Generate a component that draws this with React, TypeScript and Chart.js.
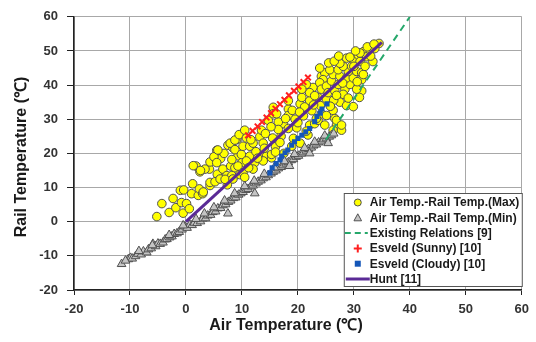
import { useEffect, useRef } from "react";
import { Chart, registerables } from "chart.js";

Chart.register(...registerables);

const xTickValues = [-20, -10, 0, 10, 20, 30, 40, 50, 60];
const yTickValues = [-20, -10, 0, 10, 20, 30, 40, 50, 60];

const seriesLabels = [
  "Air Temp.-Rail Temp.(Max)",
  "Air Temp.-Rail Temp.(Min)",
  "Existing Relations [9]",
  "Esveld (Sunny) [10]",
  "Esveld (Cloudy) [10]",
  "Hunt [11]",
];

const maxPoints: [number, number][] = [
  [-5.2, 1.5], [-4.3, 5.3], [-3.0, 2.7], [-2.3, 6.8], [-1.8, 4.1], [-1.0, 9.2], [-0.4, 9.3], [-0.8, 5.6], [-0.5, 2.5],
  [0.1, 5.3], [1.0, 8.2], [1.2, 11.1], [2.2, 7.7], [2.4, 9.6], [3.0, 8.2], [1.8, 16.3], [2.5, 14.6], [4.2, 15.4],
  [4.3, 10.6], [3.4, 15.4], [4.3, 11.5], [3.1, 8.7], [4.3, 17.5], [0.6, 3.8], [1.3, 16.4], [2.6, 15.0],
  [5.5, 20.9], [5.6, 13.9], [5.2, 11.7], [6.1, 12.5], [6.6, 15.4], [7.3, 13.5], [7.4, 10.8], [8.0, 16.3],
  [7.5, 22.4], [8.4, 21.6], [9.3, 19.3], [10.0, 17.3], [8.75, 15.8], [9.6, 13.8], [8.2, 13.5], [7.0, 12.4],
  [7.9, 23.0], [9.05, 24.0], [8.75, 21.1], [9.9, 19.7], [8.2, 18.2], [8.4, 12.5], [9.3, 16.3], [6.2, 18.5],
  [5.0, 19.0], [6.8, 20.0], [5.7, 21.0], [8.75, 23.9], [5.5, 17.3], [9.5, 25.5], [10.5, 26.8],
  [10.2, 22.1], [11.4, 22.1], [12.0, 23.0], [13.2, 24.9], [13.5, 26.8], [14.7, 29.7], [11.4, 19.2], [10.8, 17.8],
  [12.3, 17.3], [13.8, 19.7], [14.4, 19.2], [13.8, 17.8], [12.0, 15.4], [10.2, 14.4], [10.5, 13.0], [15.3, 18.7],
  [13.8, 23.0], [12.5, 20.5], [14.0, 21.5], [10.8, 24.5], [11.2, 15.8], [12.8, 18.6], [14.2, 25.8], [11.6, 24.0],
  [15.6, 33.5], [18.3, 33.0], [18.3, 31.1], [15.6, 31.6], [17.4, 28.7], [16.5, 29.2], [18.3, 27.3], [19.2, 24.4],
  [18.9, 22.1], [18.3, 35.4], [16.2, 31.6], [15.3, 19.7], [16.0, 22.0], [17.0, 25.0], [16.5, 27.0], [19.5, 30.0],
  [17.5, 20.0], [15.5, 24.5], [19.8, 27.5], [15.2, 27.8], [16.8, 23.2], [17.8, 30.2], [19.0, 32.6], [16.0, 20.4],
  [20.4, 23.0], [21.8, 25.4], [22.1, 28.3], [23.0, 28.7], [23.6, 29.7], [24.2, 31.6], [20.4, 34.5], [20.7, 36.4],
  [22.1, 35.4], [23.6, 36.4], [25.1, 35.9], [22.7, 39.3], [22.1, 37.8], [23.0, 36.9], [21.5, 40.2], [24.2, 42.6],
  [24.8, 43.6], [23.9, 45.0], [24.5, 41.6], [23.9, 40.7], [24.2, 38.8], [20.7, 38.8], [23.3, 30.2], [24.8, 28.3],
  [21.0, 31.0], [22.5, 32.5], [20.0, 29.0], [21.5, 26.5], [24.0, 34.0], [21.2, 33.6], [22.8, 34.2], [20.3, 32.1],
  [25.1, 39.7], [25.4, 37.8], [26.6, 38.3], [28.4, 38.8], [29.3, 40.2], [26.0, 41.2], [27.2, 40.2], [26.3, 43.1],
  [27.5, 42.6], [28.7, 42.1], [29.9, 42.1], [25.7, 44.5], [27.2, 44.5], [29.0, 44.0], [28.1, 45.5], [29.6, 45.5],
  [27.5, 46.4], [28.7, 47.9], [29.9, 47.4], [28.1, 37.3], [27.5, 35.0], [28.7, 34.0], [29.9, 33.7], [26.3, 32.6],
  [25.1, 31.1], [26.6, 30.2], [26.9, 28.3], [26.3, 26.8], [27.8, 26.8], [26.9, 29.7], [27.8, 28.3], [25.5, 46.5],
  [26.5, 47.0], [27.3, 48.5], [29.3, 48.2], [26.4, 35.6], [25.8, 33.8], [28.0, 40.6], [26.9, 37.0], [29.0, 36.2],
  [30.5, 44.0], [31.4, 43.6], [31.4, 41.6], [31.7, 43.1], [30.8, 48.8], [31.1, 46.9], [31.7, 49.8], [32.3, 48.3],
  [32.9, 50.3], [33.75, 50.7], [34.5, 52.2], [33.4, 46.9], [31.4, 38.3], [30.5, 38.8], [30.0, 45.5], [32.0, 45.5],
  [31.1, 49.4], [33.0, 48.5], [30.3, 50.0], [30.6, 41.0], [32.4, 51.2], [33.6, 52.0], [31.0, 36.4],
];

const minPoints: [number, number][] = [
  [-11.5, -12.4], [-10.3, -11.0], [-9.9, -10.6], [-9.6, -10.8], [-9.0, -10.1], [-8.6, -9.4], [-8.0, -9.6],
  [-7.6, -8.7], [-7.0, -9.0], [-6.7, -8.1], [-6.2, -7.8], [-5.9, -6.5], [-5.4, -7.2], [-5.0, -6.4],
  [-4.6, -6.5], [-4.1, -6.1], [-3.7, -5.2], [-3.4, -5.1], [-2.9, -4.6], [-2.5, -4.3], [-2.1, -3.6],
  [-1.6, -3.4], [-1.2, -3.0], [-0.7, -2.3], [-0.2, -1.4], [0.2, -1.8], [0.7, -0.9], [1.1, -1.0],
  [1.5, -0.3], [2.0, -0.4], [2.6, 0.1], [3.0, 0.9], [3.5, 1.0], [3.9, 1.8], [4.4, 2.0], [4.8, 2.8],
  [5.3, 3.0], [5.7, 3.9], [6.2, 4.0], [6.6, 4.8], [7.1, 5.1], [7.6, 5.8], [8.0, 6.2], [8.5, 6.9],
  [8.9, 7.1], [9.4, 7.9], [9.8, 8.3], [10.2, 8.7], [10.7, 9.3], [11.1, 9.6], [11.6, 10.3], [12.0, 10.6],
  [12.5, 11.2], [12.9, 11.7], [13.4, 12.1], [13.8, 12.7], [14.3, 13.0], [14.7, 13.6], [15.2, 14.1],
  [15.6, 14.6], [16.1, 15.0], [16.5, 15.6], [17.0, 16.0], [17.4, 16.5], [17.9, 17.0], [18.3, 17.4],
  [18.8, 18.0], [19.2, 18.3], [19.7, 19.0], [20.1, 19.3], [20.6, 19.9], [21.0, 20.3], [21.5, 20.8],
  [21.9, 21.3], [22.4, 21.7], [22.8, 22.3], [23.3, 22.6], [23.7, 23.2], [24.2, 23.5], [24.6, 24.1],
  [25.1, 24.4], [25.6, 24.9], [26.0, 25.3], [26.4, 25.8],
  [-8.4, -8.6], [-6.0, -6.9], [-3.0, -3.9], [-0.5, -1.1], [1.8, 0.8], [3.3, 2.4], [5.0, 4.2], [6.9, 6.2],
  [8.7, 8.3], [10.5, 10.4], [12.2, 12.0], [14.0, 14.0], [15.8, 15.9], [17.6, 17.7], [19.4, 19.8],
  [21.2, 21.6], [23.0, 23.4], [24.8, 25.2], [25.4, 23.0], [22.1, 20.0], [18.5, 16.3],
  [7.5, 2.4], [12.3, 8.3], [-10.8, -11.4],
];

const existingLine: [number, number][] = [
  [25, 24],
  [40, 60],
];

const esveldSunny: [number, number][] = [
  [11.1, 25.3], [11.9, 26.6], [12.8, 27.9], [13.6, 29.2], [14.4, 30.5], [15.2, 31.8], [16.0, 33.1],
  [16.8, 34.4], [17.6, 35.7], [18.4, 37.0], [19.3, 38.3], [20.1, 39.6], [21.0, 40.9], [21.8, 42.2],
];

const esveldCloudy: [number, number][] = [
  [15.0, 14.3], [15.4, 15.8], [16.1, 17.0], [16.8, 18.1], [17.1, 19.2], [17.7, 20.2], [18.2, 21.0],
  [18.9, 22.4], [19.4, 23.4], [20.0, 24.4], [20.7, 25.3], [21.4, 26.3], [22.1, 27.3], [23.0, 29.3],
  [23.4, 30.8], [24.0, 31.8], [24.3, 33.0], [25.2, 34.5],
];

const huntLine: [number, number][] = [
  [0, 0],
  [35, 52.5],
];

const toXY = (arr: [number, number][]) => arr.map(([x, y]) => ({ x, y }));

const FONT = '"Liberation Sans", Arial, sans-serif';

const titlePlugin = {
  id: "axisTitles",
  afterDraw(chart: any) {
    const { ctx } = chart;
    ctx.save();
    ctx.fillStyle = "#1a1a1a";
    ctx.font = `bold 16px ${FONT}`;
    ctx.textAlign = "center";
    ctx.textBaseline = "middle";
    ctx.fillText("Air Temperature (℃)", 286, 326);
    ctx.translate(22, 157);
    ctx.rotate(-Math.PI / 2);
    ctx.fillText("Rail Temperature (℃)", 0, 0);
    ctx.restore();
  },
};

const legendPlugin = {
  id: "boxLegend",
  afterDraw(chart: any) {
    const { ctx, chartArea } = chart;
    const w = 179;
    const h = 94;
    const x0 = chartArea.right + 1 - w;
    const y0 = chartArea.bottom - 3 - h;
    ctx.save();
    ctx.fillStyle = "#ffffff";
    ctx.fillRect(x0, y0, w, h);
    ctx.strokeStyle = "#555";
    ctx.lineWidth = 1;
    ctx.strokeRect(x0 + 0.5, y0 + 0.5, w - 1, h - 1);
    const sx = x0 + 14;
    const tx = x0 + 26;
    const ds = chart.data.datasets;
    ds.forEach((d: any, i: number) => {
      const cy = y0 + 9.5 + i * 15.3;
      ctx.save();
      if (i === 0) {
        ctx.beginPath();
        ctx.arc(sx, cy, 3.5, 0, Math.PI * 2);
        ctx.fillStyle = d.backgroundColor;
        ctx.fill();
        ctx.strokeStyle = d.borderColor;
        ctx.lineWidth = 1;
        ctx.stroke();
      } else if (i === 1) {
        ctx.beginPath();
        ctx.moveTo(sx, cy - 4);
        ctx.lineTo(sx + 3.8, cy + 3);
        ctx.lineTo(sx - 3.8, cy + 3);
        ctx.closePath();
        ctx.fillStyle = d.backgroundColor;
        ctx.fill();
        ctx.strokeStyle = d.borderColor;
        ctx.stroke();
      } else if (i === 2) {
        ctx.strokeStyle = d.borderColor;
        ctx.lineWidth = 2;
        ctx.setLineDash([6, 4]);
        ctx.beginPath();
        ctx.moveTo(x0 + 1, cy);
        ctx.lineTo(x0 + 24, cy);
        ctx.stroke();
      } else if (i === 3) {
        ctx.strokeStyle = d.borderColor;
        ctx.lineWidth = 2;
        ctx.beginPath();
        ctx.moveTo(sx - 4, cy);
        ctx.lineTo(sx + 4, cy);
        ctx.moveTo(sx, cy - 4);
        ctx.lineTo(sx, cy + 4);
        ctx.stroke();
      } else if (i === 4) {
        ctx.fillStyle = d.backgroundColor;
        ctx.fillRect(sx - 3, cy - 3, 6, 6);
      } else {
        ctx.strokeStyle = d.borderColor;
        ctx.lineWidth = 3;
        ctx.beginPath();
        ctx.moveTo(x0 + 2, cy);
        ctx.lineTo(x0 + 26, cy);
        ctx.stroke();
      }
      ctx.restore();
      ctx.fillStyle = "#1a1a1a";
      ctx.font = `bold 12px ${FONT}`;
      ctx.textAlign = "left";
      ctx.textBaseline = "middle";
      ctx.fillText(d.label, tx, cy + 0.5);
    });
    ctx.restore();
  },
};

export default function App() {
  const canvasRef = useRef<HTMLCanvasElement | null>(null);

  useEffect(() => {
    const canvas = canvasRef.current;
    if (!canvas) return;
    const chart = new Chart(canvas, {
      type: "scatter",
      data: {
        datasets: [
          {
            label: seriesLabels[0],
            data: toXY(maxPoints),
            pointStyle: "circle",
            pointRadius: 4.3,
            backgroundColor: "#ffff00",
            borderColor: "#505050",
            borderWidth: 1,
            order: 6,
          },
          {
            label: seriesLabels[1],
            data: toXY(minPoints),
            pointStyle: "triangle",
            pointRadius: 5,
            backgroundColor: "#c4c4c4",
            borderColor: "#505050",
            borderWidth: 1,
            order: 5,
          },
          {
            label: seriesLabels[2],
            data: toXY(existingLine),
            showLine: true,
            pointRadius: 0,
            borderColor: "#26a86b",
            backgroundColor: "#26a86b",
            borderWidth: 2,
            borderDash: [7, 5],
            order: 4,
          },
          {
            label: seriesLabels[3],
            data: toXY(esveldSunny),
            pointStyle: "crossRot",
            pointRadius: 4,
            borderColor: "#ff2020",
            backgroundColor: "#ff2020",
            borderWidth: 2,
            order: 2,
          },
          {
            label: seriesLabels[4],
            data: toXY(esveldCloudy),
            pointStyle: "rect",
            pointRadius: 3.6,
            borderColor: "#1456b8",
            backgroundColor: "#1456b8",
            borderWidth: 0,
            order: 3,
          },
          {
            label: seriesLabels[5],
            data: toXY(huntLine),
            showLine: true,
            pointRadius: 0,
            borderColor: "#5a2a96",
            backgroundColor: "#5a2a96",
            borderWidth: 3,
            order: 1,
          },
        ],
      },
      options: {
        responsive: false,
        animation: false,
        layout: { padding: { left: 0, right: 14, top: 11, bottom: 0 } },
        plugins: {
          legend: { display: false },
          tooltip: { enabled: false },
          title: { display: false },
        },
        scales: {
          x: {
            type: "linear",
            min: -20,
            max: 60,
            afterBuildTicks: (scale: any) => {
              scale.ticks = xTickValues.map((v) => ({ value: v }));
            },
            afterFit: (scale: any) => {
              scale.height = 52;
            },
            ticks: {
              color: "#333",
              font: { family: FONT, size: 13, weight: "bold" },
              padding: 7,
              maxRotation: 0,
            },
            grid: { color: "#a8a8a8", lineWidth: 1, tickLength: 5, tickColor: "#222" },
            border: { display: true, color: "#222", width: 1.5 },
          },
          y: {
            type: "linear",
            min: -20,
            max: 60,
            afterBuildTicks: (scale: any) => {
              scale.ticks = yTickValues.map((v) => ({ value: v }));
            },
            afterFit: (scale: any) => {
              scale.width = 74;
            },
            ticks: {
              color: "#333",
              font: { family: FONT, size: 13, weight: "bold" },
              padding: 9,
            },
            grid: { color: "#a8a8a8", lineWidth: 1, tickLength: 7, tickColor: "#222" },
            border: { display: true, color: "#222", width: 1.5 },
          },
        },
      },
      plugins: [titlePlugin, legendPlugin],
    });
    return () => chart.destroy();
  }, []);

  return (
    <div style={{ position: "absolute", left: 0, top: 0, width: 536, height: 342, background: "#fff" }}>
      <canvas ref={canvasRef} width={536} height={342} style={{ width: 536, height: 342, display: "block" }} />
    </div>
  );
}
